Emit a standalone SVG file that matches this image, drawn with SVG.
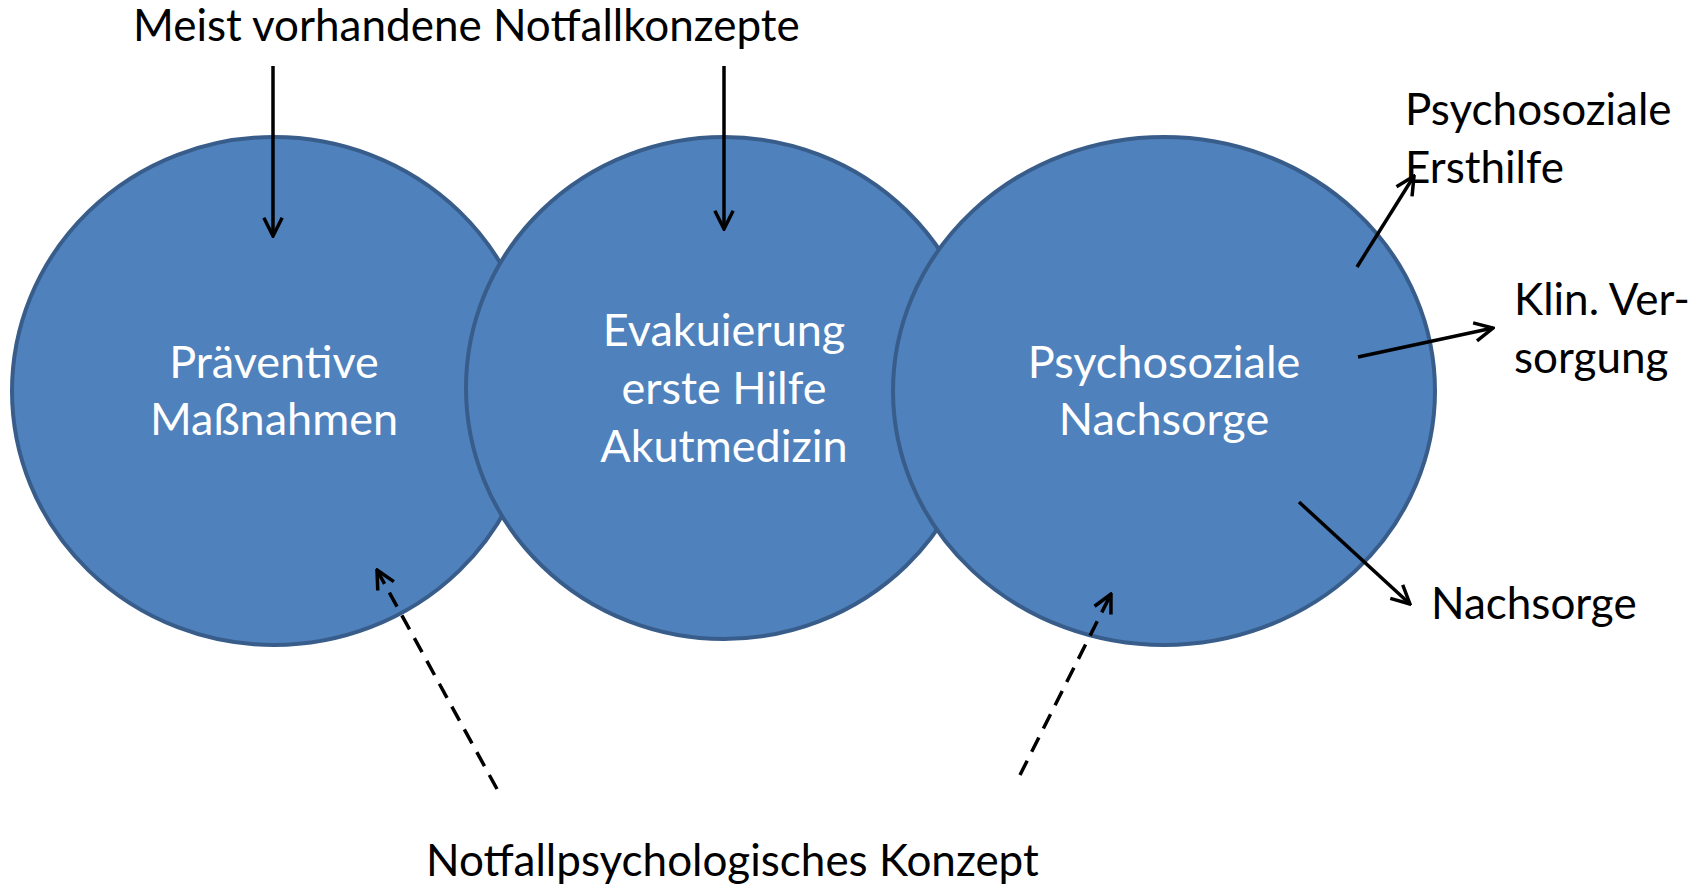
<svg xmlns="http://www.w3.org/2000/svg" width="1704" height="885" viewBox="0 0 1704 885">
  <style>
    .circle { fill: #4F81BD; stroke: #385D8A; stroke-width: 4; }
    .lbl { font-family: Lato, "Liberation Sans", sans-serif; font-size: 44px; fill: #000000; }
    .in { font-family: Lato, "Liberation Sans", sans-serif; font-size: 45px; fill: #FFFFFF; text-anchor: middle; }
    .arr { stroke: #000000; stroke-width: 3.5; fill: none; marker-end: url(#open); }
    .dash { stroke-dasharray: 16 10; }
  </style>
  <defs>
    <marker id="open" viewBox="0 0 12 12" refX="11" refY="6" markerWidth="22" markerHeight="22" markerUnits="userSpaceOnUse" orient="auto">
      <path d="M1,1 L11,6 L1,11" fill="none" stroke="#000000" stroke-width="1.9"/>
    </marker>
  </defs>
  <rect width="1704" height="885" fill="#FFFFFF"/>
  <g id="node-praevention">
    <ellipse class="circle" cx="274" cy="391" rx="262" ry="254"/>
    <text class="in" x="274" y="378">Präventive</text>
    <text class="in" x="274" y="435">Maßnahmen</text>
  </g>
  <g id="node-akut">
    <ellipse class="circle" cx="724" cy="388" rx="258" ry="251"/>
    <text class="in" x="724" y="346">Evakuierung</text>
    <text class="in" x="724" y="404">erste Hilfe</text>
    <text class="in" x="724" y="462">Akutmedizin</text>
  </g>
  <g id="node-nachsorge">
    <ellipse class="circle" cx="1164" cy="391" rx="271" ry="254"/>
    <text class="in" x="1164" y="378">Psychosoziale</text>
    <text class="in" x="1164" y="435">Nachsorge</text>
  </g>
  <g id="label-meist">
    <text class="lbl" x="133" y="41">Meist vorhandene Notfallkonzepte</text>
  </g>
  <g id="label-ersthilfe">
    <text class="lbl" x="1405" y="125">Psychosoziale</text>
    <text class="lbl" x="1405" y="183">Ersthilfe</text>
  </g>
  <g id="label-klin">
    <text class="lbl" x="1514" y="315">Klin. Ver-</text>
    <text class="lbl" x="1514" y="373">sorgung</text>
  </g>
  <g id="label-nachsorge">
    <text class="lbl" x="1431" y="619">Nachsorge</text>
  </g>
  <g id="label-konzept">
    <text class="lbl" x="426" y="876">Notfallpsychologisches Konzept</text>
  </g>
  <g id="connectors">
    <line class="arr" x1="273" y1="66" x2="273" y2="236"/>
    <line class="arr" x1="724" y1="66" x2="724" y2="229"/>
    <line class="arr" x1="1357" y1="267" x2="1414" y2="176"/>
    <line class="arr" x1="1358" y1="357" x2="1493" y2="328"/>
    <line class="arr" x1="1299" y1="502" x2="1410" y2="604"/>
    <line class="arr dash" x1="497" y1="789" x2="377" y2="570"/>
    <line class="arr dash" x1="1020" y1="775" x2="1111" y2="594"/>
  </g>
</svg>
